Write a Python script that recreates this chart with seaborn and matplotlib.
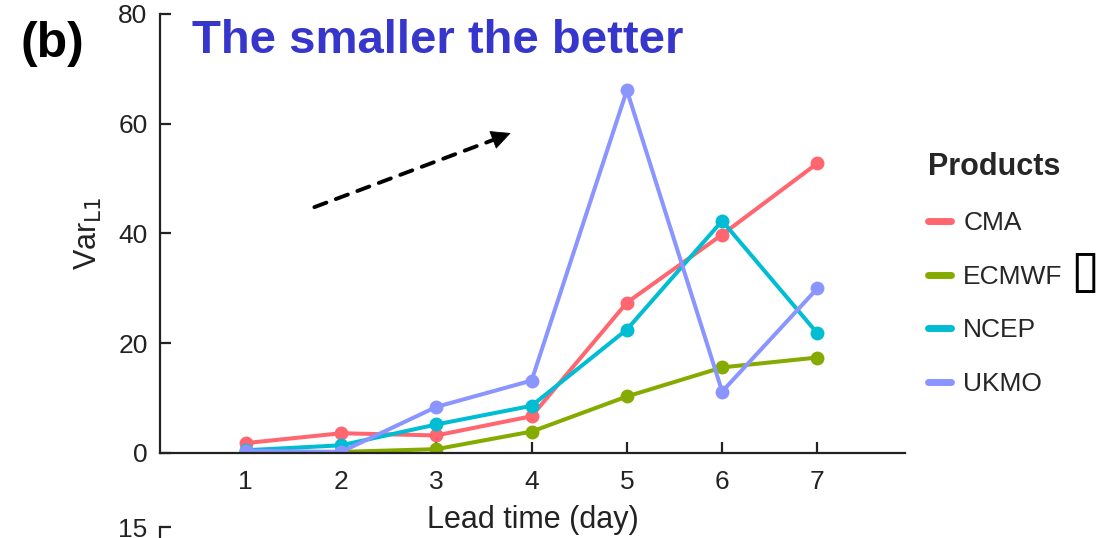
import matplotlib
matplotlib.use("Agg")
import matplotlib.pyplot as plt
import seaborn as sns
import pandas as pd
from matplotlib.lines import Line2D

days = [1, 2, 3, 4, 5, 6, 7]
products = ["CMA", "ECMWF", "NCEP", "UKMO"]
cma = [1.8, 3.6, 3.2, 6.7, 27.4, 39.8, 52.8]
ecmwf = [0.1, 0.2, 0.7, 3.9, 10.3, 15.6, 17.4]
ncep = [0.5, 1.4, 5.2, 8.6, 22.5, 42.3, 21.8]
ukmo = [0.4, 0.2, 8.4, 13.2, 66.1, 11.2, 30.0]
yticks = [0, 20, 40, 60, 80]
colors = ["#FF6670", "#86AB00", "#00BDD3", "#8B95FF"]

df = pd.DataFrame({
    "day": days * 4,
    "value": cma + ecmwf + ncep + ukmo,
    "product": [p for p in products for _ in days],
})

sns.set_style("ticks")
plt.rcParams["font.family"] = ["Liberation Sans", "DejaVu Sans"]

fig = plt.figure(figsize=(11.16, 5.38), dpi=100)
ax = fig.add_axes([0.1434, 0.158, 0.811 - 0.1434, 0.974 - 0.158])

sns.lineplot(data=df, x="day", y="value", hue="product", hue_order=products,
             palette=colors, marker="o", markersize=10, markeredgewidth=0,
             linewidth=2.9, ax=ax, legend=False)

ax.set_xlim(0.1, 7.92)
ax.set_ylim(0, 80)
ax.set_xticks(days)
ax.set_yticks(yticks)
for s in ["top", "right"]:
    ax.spines[s].set_visible(False)
for s in ["left", "bottom"]:
    ax.spines[s].set_linewidth(1.6)
    ax.spines[s].set_color("#222222")
ax.tick_params(direction="in", length=8, width=1.6, labelsize=19, colors="#222222", pad=9)
ax.tick_params(axis="x", pad=12)
ax.set_xlabel("Lead time (day)", fontsize=22, color="#222222", labelpad=8)
ax.set_ylabel("Var$_{\\mathrm{L1}}$", fontsize=22, color="#222222", labelpad=10)

# dashed shaft
ax.annotate("", xy=(3.62, 57.2), xytext=(1.72, 44.8),
            arrowprops=dict(arrowstyle="-", linestyle=(0, (3.3, 2.6)), lw=2.8,
                            color="black", shrinkA=0, shrinkB=0))
# solid head
ax.annotate("", xy=(3.78, 58.3), xytext=(3.6, 57.1),
            arrowprops=dict(arrowstyle="-|>,head_length=0.65,head_width=0.32",
                            mutation_scale=20, lw=0.5, color="black",
                            shrinkA=0, shrinkB=0))

fig.text(0.172, 0.924, "The smaller the better", fontsize=34, fontweight="bold",
         color="#3636CC", ha="left", va="center")
fig.text(0.018, 0.918, "(b)", fontsize=36, fontweight="bold", color="black",
         ha="left", va="center")

handles = [Line2D([0], [0], color=c, lw=5) for c in colors]
labels = ["CMA", "ECMWF", "NCEP", "UKMO"]
leg = fig.legend(handles, labels, title="Products", loc="upper left",
                 bbox_to_anchor=(0.81, 0.762), frameon=False, fontsize=19,
                 handlelength=0.9, handletextpad=0.45, labelspacing=1.12,
                 alignment="left")
leg.get_title().set_fontweight("bold")
leg.get_title().set_fontsize(22)
fig.text(0.972, 0.494, "\u25AF", fontsize=38, color="black", ha="center", va="center",
         family=["DejaVu Sans"])

ax2 = fig.add_axes([0.1434, -0.3, 0.2, 0.3204])
ax2.set_ylim(0, 15)
ax2.set_yticks([15])
ax2.set_xticks([])
for s in ["top", "right", "bottom"]:
    ax2.spines[s].set_visible(False)
ax2.spines["left"].set_linewidth(1.6)
ax2.spines["left"].set_color("#222222")
ax2.tick_params(direction="in", length=8, width=1.6, labelsize=19, colors="#222222", pad=9)
ax2.patch.set_alpha(0)

fig.savefig("out.png", dpi=100)
